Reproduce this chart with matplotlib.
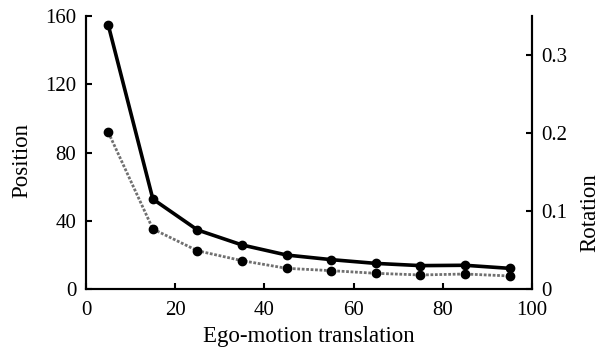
import numpy as np
import matplotlib.pyplot as plt

plt.rcParams['font.family'] = ['Liberation Serif', 'DejaVu Serif']

# data
translation = [5, 15, 25, 35, 45, 55, 65, 75, 85, 95]
position = [154.7, 52.7, 34.6, 25.8, 19.9, 17.2, 15.0, 13.7, 13.9, 12.1]
rotation = [0.201, 0.0769, 0.049, 0.0363, 0.0265, 0.0235, 0.0201, 0.018, 0.0192, 0.0167]

fig = plt.figure(figsize=(6.08, 3.52), dpi=100)
ax = fig.add_axes([0.1414, 0.179, 0.7336, 0.7755])
ax2 = ax.twinx()

ax.plot(translation, position, color="black", lw=2.6, marker="o", ms=6, zorder=3)
ax2.plot(translation, rotation, color="#707070", lw=2.0, ls=(0, (1, 0.6)),
         marker="o", ms=6, mfc="black", mec="black")

ax.set_xlim(0, 100)
ax.set_ylim(0, 160)
ax2.set_ylim(0, 0.35)
ax.set_xticks([0, 20, 40, 60, 80, 100])
ax.set_yticks([0, 40, 80, 120, 160])
ax2.set_yticks([0, 0.1, 0.2, 0.3])
ax2.set_yticklabels(["0", "0.1", "0.2", "0.3"])

for a in (ax, ax2):
    a.spines["top"].set_visible(False)
    for s in a.spines.values():
        s.set_linewidth(1.5)
    a.tick_params(direction="in", length=4, width=1.5, labelsize=15, pad=7)
ax.tick_params(axis="x", pad=9)

ax.set_xlabel("Ego-motion translation", fontsize=16.5, labelpad=4)
# axis titles placed by their centres
fig.text(22 / 608, 1 - 160 / 352, "Position", fontsize=16.5, rotation=90,
         ha="center", va="center")
fig.text(590 / 608, 1 - 213 / 352, "Rotation", fontsize=16.5, rotation=90,
         ha="center", va="center")

fig.savefig("out.png", dpi=100)
